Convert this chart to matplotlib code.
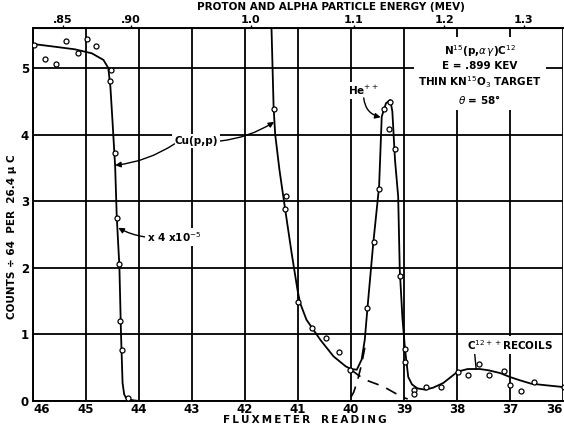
import numpy as np
import matplotlib.pyplot as plt

plt.rcParams['font.family'] = ['DejaVu Sans']

# measured points (fluxmeter reading, counts / 64 per 26.4 uC)
pts_f = [45.98, 45.77, 45.57, 45.38, 45.16, 44.98, 44.81, 44.53, 44.55, 44.45, 44.42, 44.38, 44.35, 44.32, 44.21,
         41.45, 41.23, 41.25, 41.00, 40.73, 40.47, 40.23, 40.02,
         39.69, 39.57, 39.47, 39.37, 39.26, 39.29, 39.17, 39.08, 38.98, 38.99,
         38.81, 38.81, 38.59, 38.30, 37.99, 37.79, 37.59, 37.39, 37.11, 37.00, 36.79, 36.55, 35.99]
pts_v = [5.34, 5.13, 5.06, 5.41, 5.23, 5.44, 5.33, 4.97, 4.80, 3.73, 2.75, 2.05, 1.20, 0.76, 0.04,
         4.39, 3.08, 2.89, 1.48, 1.09, 0.95, 0.73, 0.47,
         1.39, 2.39, 3.18, 4.38, 4.49, 4.09, 3.78, 1.88, 0.78, 0.59,
         0.165, 0.105, 0.21, 0.21, 0.43, 0.39, 0.55, 0.39, 0.45, 0.24, 0.15, 0.29, 0.21]

# hand drawn curves
cu1_f = [46.0, 45.6, 45.21, 44.89, 44.67, 44.58, 44.54, 44.50, 44.45, 44.42, 44.37, 44.34, 44.31, 44.28, 44.24, 44.15, 44.0]
cu1_v = [5.36, 5.32, 5.28, 5.22, 5.12, 5.0, 4.72, 4.2, 3.52, 2.77, 2.02, 1.02, 0.27, 0.10, 0.04, 0.015, 0.0]

main_f = [41.50, 41.48, 41.46, 41.43, 41.35, 41.25, 41.12, 41.01, 40.96, 40.84, 40.58, 40.33, 40.10, 40.00,
          39.89, 39.80, 39.74, 39.69, 39.58, 39.47, 39.42, 39.34, 39.26, 39.22, 39.17, 39.11, 39.08, 39.03,
          38.98, 38.92, 38.85, 38.75, 38.6, 38.45, 38.26, 38.1, 37.99, 37.8, 37.57, 37.4, 37.19, 37.0,
          36.81, 36.6, 36.37, 36.0]
main_v = [5.60, 5.00, 4.40, 4.00, 3.47, 2.92, 2.22, 1.67, 1.47, 1.22, 0.92, 0.67, 0.52, 0.48,
          0.47, 0.62, 0.92, 1.39, 2.37, 3.22, 4.27, 4.47, 4.52, 4.35, 3.62, 3.07, 1.97, 1.25,
          0.77, 0.36, 0.25, 0.19, 0.17, 0.20, 0.27, 0.37, 0.44, 0.48, 0.48, 0.46, 0.42, 0.36,
          0.31, 0.26, 0.24, 0.21]

cu_tail_f = [40.0, 39.85, 39.67, 39.5, 39.33, 39.15, 39.0, 38.93]
cu_tail_v = [0.47, 0.38, 0.30, 0.25, 0.19, 0.11, 0.05, 0.03]
he_tail_f = [39.74, 39.80, 39.88, 39.95, 40.0, 40.05, 40.12]
he_tail_v = [0.80, 0.55, 0.30, 0.13, 0.06, 0.02, 0.0]

flux_ticks = list(range(36, 47))
count_ticks = list(range(0, 6))
energy_ticks = [0.85, 0.90, 1.0, 1.1, 1.2, 1.3]
energy_labels = ['.85', '.90', '1.0', '1.1', '1.2', '1.3']
K = 1755.0  # E = K / f^2


def to_energy(f):
    f = np.asarray(f, dtype=float)
    return K / np.maximum(f, 1e-6) ** 2


def to_flux(e):
    e = np.asarray(e, dtype=float)
    return np.sqrt(K / np.maximum(e, 1e-6))


def spaced(s):
    return '\u2009'.join(s)


fig = plt.figure(figsize=(5.64, 4.25), dpi=100)
ax = fig.add_axes([33 / 564, 1 - 401 / 425, 530 / 564, 373 / 425])
ax.set_xlim(46, 36)
ax.set_ylim(0, 5.6)
ax.set_xticks(flux_ticks)
ax.set_xticklabels([str(t) for t in flux_ticks])
ax.set_yticks(count_ticks)
ax.grid(True, color='black', lw=1.3)
ax.set_axisbelow(True)
ax.tick_params(axis='y', length=0, labelsize=8.5, pad=3)
ax.tick_params(axis='x', length=0, labelsize=8.5, pad=1.5)
for lab in ax.get_xticklabels() + ax.get_yticklabels():
    lab.set_fontweight('bold')
ax.get_xticklabels()[0].set_horizontalalignment('right')
ax.get_xticklabels()[-1].set_horizontalalignment('left')
for s in ax.spines.values():
    s.set_linewidth(1.4)
ax.spines['right'].set_visible(False)

ax.plot(cu1_f, cu1_v, color='black', lw=1.3)
ax.plot(main_f, main_v, color='black', lw=1.3)
ax.plot(cu_tail_f, cu_tail_v, color='black', lw=1.2, linestyle=(0, (7, 5)))
ax.plot(he_tail_f, he_tail_v, color='black', lw=1.2, linestyle=(0, (7, 5)))
ax.plot(pts_f, pts_v, 'o', ms=3.6, mfc='white', mec='black', mew=0.9, zorder=5)

sec = ax.secondary_xaxis('top', functions=(to_energy, to_flux))
sec.set_xticks(energy_ticks)
sec.set_xticklabels(energy_labels)
sec.tick_params(direction='out', length=2, width=1, labelsize=8, pad=0)
for lab in sec.get_xticklabels():
    lab.set_fontweight('bold')

txt = dict(fontsize=7.5, fontweight='bold', color='black')
white = dict(facecolor='white', edgecolor='none', pad=1.5)
arrow = dict(arrowstyle='-|>', color='black', lw=1.0, mutation_scale=8, shrinkA=0, shrinkB=0)

ax.annotate('Cu(p,p)', xy=(41.45, 4.19), xytext=(42.92, 3.9), ha='center', va='center', bbox=white,
            arrowprops=dict(arrow, connectionstyle='arc3,rad=0.12', relpos=(1, 0.5)), **txt)
ax.annotate('', xy=(44.45, 3.54), xytext=(43.33, 3.86),
            arrowprops=dict(arrow, connectionstyle='arc3,rad=-0.12'))
ax.annotate(r'x 4 x10$^{-5}$', xy=(44.39, 2.6), xytext=(43.85, 2.46), ha='left', va='center', bbox=white,
            arrowprops=dict(arrow, connectionstyle='arc3,rad=-0.1', relpos=(0, 0.5)), **txt)
ax.text(39.77, 4.66, r'He$^{++}$', ha='center', va='center', bbox=white, **txt)
ax.annotate('', xy=(39.44, 4.26), xytext=(39.76, 4.55),
            arrowprops=dict(arrow, connectionstyle='arc3,rad=0.35'))
ax.text(37.0, 0.84, r'C$^{12++}$RECOILS', ha='center', va='center', bbox=white, **txt)
ax.plot([37.67, 37.64], [0.74, 0.49], color='black', lw=1.0)

ax.text(37.57, 4.90, 'N$^{15}$(p,$\\alpha\\,\\gamma$)C$^{12}$\nE = .899 KEV\nTHIN KN$^{15}$O$_3$ TARGET\n'
        '$\\theta$ = 58°', ha='center', va='center', linespacing=1.25,
        bbox=dict(facecolor='white', edgecolor='none', pad=3), **txt)

fig.text(331 / 564, 1 - 7 / 425, 'PROTON AND ALPHA PARTICLE ENERGY (MEV)', ha='center', va='center', **txt)
fig.text(305 / 564, 1 - 420 / 425, spaced('FLUXMETER') + '   ' + spaced('READING'),
         ha='center', va='center', **txt)
fig.text(12 / 564, 1 - 237 / 425, 'COUNTS ÷ 64  PER  26.4 μ C', rotation=90, ha='center', va='center', **txt)

fig.savefig('out.png', dpi=100)
